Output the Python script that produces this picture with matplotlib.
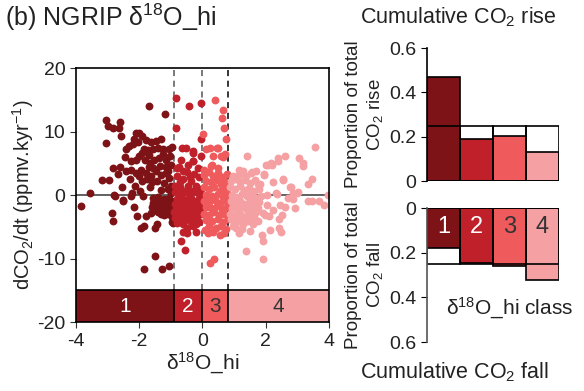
import numpy as np
import matplotlib
matplotlib.use("Agg")
import matplotlib.pyplot as plt
from matplotlib.patches import Rectangle

plt.rcParams['font.family'] = ['Liberation Sans', 'DejaVu Sans']
plt.rcParams['mathtext.fontset'] = 'custom'
plt.rcParams['mathtext.rm'] = 'Liberation Sans'
plt.rcParams['mathtext.it'] = 'Liberation Sans'
plt.rcParams['axes.unicode_minus'] = False

# class colours (1 -> 4)
colors = ['#7d1317', '#c0202a', '#ef5a5c', '#f5a0a2']
txtcol = ['white', 'white', '#333333', '#333333']

# class limits on d18O_hi
bounds = [-4, -0.9, 0.0, 0.8, 4]

# scatter points, (d18O_hi, dCO2/dt) per class
c1 = [(-3.85,-1.7),(-3.55,0.4),(-3.06,11.8),(-3.0,10.8),(-2.83,10.5),(-2.65,10.6),(-2.6,11.5),(-3.04,8.2),
      (-3.17,2.3),(-2.94,2.4),(-2.82,4.2),(-2.67,3.3),(-2.56,9.3),(-2.78,0.0),(-2.54,1.2),(-2.51,-0.8),
      (-2.86,-2.8),(-2.82,-4.0),(-2.41,7.3),(-2.33,7.8),(-2.2,8.1),(-2.1,9.8),(-2.0,9.7),(-1.91,9.3),
      (-2.15,8.8),(-2.05,8.3),(-1.78,8.6),(-1.63,8.3),(-1.46,8.5),(-1.31,8.8),(-1.68,14.0),(-1.17,12.8),
      (-1.86,7.3),(-1.72,7.1),(-1.56,7.2),(-1.41,7.4),(-2.25,5.3),(-2.1,5.6),(-2.0,6.1),(-1.83,5.6),
      (-1.67,5.1),(-1.52,5.6),(-1.36,5.9),(-1.25,6.4),(-1.14,5.6),(-1.04,7.2),(-0.95,7.6),(-2.25,4.0),
      (-2.41,3.8),(-2.1,3.5),(-1.94,4.0),(-1.78,3.5),(-1.62,3.0),(-1.46,3.8),(-1.3,3.2),(-1.14,3.5),
      (-1.04,2.7),(-0.99,1.4),(-1.2,1.9),(-2.12,1.4),(-2.23,0.4),(-1.97,0.6),(-1.67,1.2),(-1.88,-0.2),
      (-1.56,-1.2),(-1.46,-0.9),(-1.35,-1.2),(-1.25,-1.7),(-1.14,-1.2),(-1.04,-1.7),(-0.99,-0.9),(-1.46,-2.0),
      (-1.3,-2.5),(-1.14,-2.5),(-0.99,-2.8),(-1.62,-2.8),(-1.78,-3.3),(-2.07,-3.3),(-1.94,-5.2),(-1.84,-4.9),
      (-1.5,-5.1),(-1.45,-4.6),(-0.97,-4.2),(-1.3,-3.0),(-2.17,-1.9),(-2.26,-0.2),(-2.5,-0.9),(-2.77,-0.1),
      (-1.84,-11.7),(-1.49,-9.6),(-1.29,-11.7),(-1.06,-11.1),
      (-1.55,-0.5),(-1.4,-0.3),(-1.2,-0.6),(-1.05,-0.4),(-1.3,-1.8),(-1.18,-2.0),(-1.08,-2.3),(-0.98,-1.9),
      (-1.5,-1.6),(-1.22,-3.2),(-1.1,-3.0),(-1.4,-2.7),(-0.95,-3.5),(-1.6,-1.9),(-1.0,0.3),(-1.1,1.0),
      (-1.3,0.8),(-1.45,2.2),(-1.6,2.0),(-1.75,2.6),(-1.9,2.2),(-2.0,3.0),(-1.55,4.3),(-1.35,4.6),
      (-1.15,4.5),(-1.0,4.8),(-1.7,6.3),(-1.9,6.6),(-1.25,7.3),(-1.02,6.1),(-1.08,3.8),(-1.7,4.4),
      (-2.3,2.5),(-2.6,4.4),(-2.45,6.0),(-0.92,-4.4)]
c2 = [(-0.83,15.3),(-0.82,10.5),(-0.43,14.0),(-0.04,14.5),(-0.05,8.9),(-0.64,7.4),(-0.51,7.4),(-0.3,6.9),
      (-0.67,5.6),(-0.3,5.3),(-0.03,6.1),(-0.62,-5.8),(-0.48,-5.9),(-0.2,-5.8),(-0.66,-7.2),(-0.55,-8.6),
      (-0.75,4.5),(-0.8,3.0),(-0.5,3.6),(-0.15,4.2),(-0.6,2.5),(-0.35,2.2),(-0.1,2.8),(-0.85,1.5),
      (-0.7,1.2),(-0.45,1.5),(-0.2,1.4),(-0.05,1.0),(-0.31,6.6),(-0.29,5.4),
      (-0.85,0.5),(-0.75,0.2),(-0.6,0.6),(-0.45,0.3),(-0.3,0.7),(-0.15,0.4),(-0.05,-0.2),(-0.8,-0.6),
      (-0.65,-0.4),(-0.5,-0.8),(-0.35,-0.5),(-0.2,-0.9),(-0.1,-0.6),(-0.85,-1.4),(-0.7,-1.2),(-0.55,-1.6),
      (-0.4,-1.3),(-0.25,-1.7),(-0.1,-1.4),(-0.82,-2.2),(-0.68,-2.0),(-0.52,-2.4),(-0.38,-2.1),(-0.22,-2.5),
      (-0.08,-2.2),(-0.78,-3.0),(-0.62,-2.9),(-0.47,-3.2),(-0.32,-2.9),(-0.18,-3.3),(-0.05,-3.0),(-0.72,-3.8),
      (-0.56,-3.7),(-0.4,-4.0),(-0.26,-3.8),(-0.12,-4.2),(-0.6,-4.6),(-0.3,-4.8),(-0.88,-3.6),(-0.9,-2.6),
      (-0.75,-1.7),(-0.45,-1.9),(-0.3,-1.1),(-0.6,-1.0),(-0.15,-2.0),(-0.7,2.0),(-0.4,2.8),(-0.25,3.4),
      (-0.6,3.8),(-0.8,4.2),(-0.45,4.8),(-0.2,-4.6),(-0.8,-4.4),(-0.5,-5.2)]
c3 = [(0.39,14.9),(0.64,13.4),(0.61,12.2),(0.69,10.5),(0.74,8.9),(0.02,9.6),(0.12,7.2),(0.49,7.4),
      (0.33,6.1),(0.71,6.4),(0.05,4.0),(0.26,4.6),(0.24,-10.7),(0.38,-10.1),(0.6,6.2),(0.24,7.4),
      (0.45,7.4),(0.66,6.0),(0.08,-5.5),(0.19,-6.0),
      (0.05,3.2),(0.2,3.6),(0.35,3.0),(0.5,3.5),(0.65,2.8),(0.78,3.3),(0.1,2.2),(0.28,2.0),
      (0.45,2.4),(0.6,1.8),(0.75,2.1),(0.05,1.2),(0.2,0.9),(0.38,1.3),(0.55,0.7),(0.7,1.1),
      (0.12,0.0),(0.3,-0.2),(0.48,0.2),(0.65,-0.3),(0.8,0.1),(0.05,-0.9),(0.22,-1.1),(0.4,-0.8),
      (0.57,-1.2),(0.74,-0.9),(0.1,-1.9),(0.28,-2.1),(0.45,-1.7),(0.62,-2.2),(0.78,-1.8),(0.05,-2.9),
      (0.2,-3.1),(0.37,-2.7),(0.53,-3.2),(0.7,-2.9),(0.12,-3.9),(0.3,-4.1),(0.48,-3.8),(0.65,-4.2),
      (0.8,-3.7),(0.2,-4.9),(0.42,-5.1),(0.6,-4.8),(0.75,-5.4),(0.1,-5.5),(0.33,-5.8),(0.56,-6.3),
      (0.7,-6.0),(0.5,4.3),(0.3,4.8),(0.15,-0.4),(0.68,0.5)]
c4 = [(1.41,6.1),(2.02,4.8),(2.17,5.0),(2.39,5.9),(2.4,5.3),(2.63,6.1),(3.05,5.8),(3.18,5.0),
      (3.19,4.6),(3.57,7.6),(3.46,2.6),(3.33,1.8),(3.99,0.0),(3.7,-0.9),(3.86,-1.5),(3.33,-0.9),
      (2.86,-0.6),(3.02,0.5),(2.76,1.2),(2.54,2.5),(1.96,3.2),(1.7,3.8),(1.54,3.5),(1.38,3.0),
      (1.17,3.2),(0.96,3.0),(1.91,-2.8),(2.12,-3.3),(2.44,-3.8),(2.44,-5.1),(1.91,-7.2),(1.38,-8.8),
      (1.93,-10.0),(1.17,-5.9),(0.96,-4.9),(2.03,0.0),(2.32,0.3),(2.88,0.4),(2.72,-0.4),(3.47,-1.0),
      (2.93,-2.1),(2.61,-1.8),(2.46,-1.6),(2.51,-3.1),(2.49,-5.8),(2.14,-5.5),(1.88,-6.3),(2.04,-1.6),
      (2.25,-2.4),(1.98,-3.1),(1.77,-2.1),(2.07,4.7),(2.19,4.7),(2.24,2.0),(2.56,2.4),(2.8,1.2),
      (3.0,0.3),(2.36,0.2),(1.77,1.8),(1.83,1.7),(1.56,3.6),(1.95,3.4),
      (0.9,2.2),(1.05,2.5),(1.2,2.0),(1.35,2.4),(1.5,1.9),(1.65,2.3),(0.88,1.2),(1.02,1.0),
      (1.18,1.4),(1.32,0.8),(1.48,1.1),(1.62,0.6),(1.8,0.9),(0.95,0.0),(1.1,-0.3),(1.25,0.2),
      (1.4,-0.2),(1.55,0.1),(1.7,-0.4),(1.85,-0.1),(0.9,-1.0),(1.05,-1.3),(1.2,-0.9),(1.35,-1.4),
      (1.5,-1.0),(1.65,-1.5),(1.8,-1.1),(0.95,-2.0),(1.1,-2.3),(1.25,-1.9),(1.4,-2.4),(1.55,-2.0),
      (1.7,-2.6),(0.88,-3.0),(1.02,-3.3),(1.18,-2.9),(1.32,-3.4),(1.48,-3.0),(1.62,-3.5),(1.0,-4.2),
      (1.15,-4.0),(1.3,-4.5),(1.45,-4.1),(1.6,-4.6),(1.75,-4.0),(1.25,-5.3),(1.5,-5.6),(1.05,-5.2),
      (0.9,-3.8),(1.15,4.0),(1.3,3.8)]
classes = [c1, c2, c3, c4]

# cumulative proportions per class
rise = [0.47, 0.19, 0.205, 0.13]
fall = [0.18, 0.245, 0.26, 0.32]
expected = [0.25, 0.25, 0.25, 0.25]

fig = plt.figure(figsize=(5.84, 3.91), dpi=100)

# ---- scatter panel
ax = fig.add_axes([0.130, 0.176, 0.433, 0.650])
ax.axhline(0, color='#555555', lw=1.3, zorder=1)
for i, b in enumerate(bounds[1:-1]):
    ax.plot([b, b], [-15, 20], ls=(0, (4, 3)), lw=1.1,
            color='#555555' if i < 2 else 'black', zorder=1)
for i, pts in enumerate(classes):
    p = np.array(pts)
    ax.scatter(p[:, 0], p[:, 1], s=32, color=colors[i], lw=0, zorder=2)
for i in range(4):
    ax.add_patch(Rectangle((bounds[i], -20), bounds[i+1]-bounds[i], 5,
                           facecolor=colors[i], edgecolor='black', lw=1.2, zorder=3))
    ax.text((bounds[i]+bounds[i+1])/2, -17.6, str(i+1), color=txtcol[i],
            ha='center', va='center', fontsize=15, zorder=4)
ax.set_xlim(-4, 4)
ax.set_ylim(-20, 20)
ax.set_xticks([-4, -2, 0, 2, 4])
ax.set_yticks([-20, -10, 0, 10, 20])
ax.tick_params(labelsize=14, length=4, color='#333333', labelcolor='#222222')
for s in ax.spines.values():
    s.set_linewidth(1.2)
ax.set_xlabel('δ$^{18}$O_hi', fontsize=15, labelpad=1, color='#222222')
ax.set_ylabel('dCO$_2$/dt (ppmv.kyr$^{-1}$)', fontsize=14.5, labelpad=1, color='#222222')
fig.text(0.008, 0.955, '(b) NGRIP δ$^{18}$O_hi', fontsize=18, color='#222222', va='center')

# ---- cumulative rise
x = np.arange(4)
ax1 = fig.add_axes([0.731, 0.537, 0.226, 0.340])
ax1.bar(x, rise, width=1, color=colors, edgecolor='black', lw=1.2)
ax1.bar(x, expected, width=1, fill=False, edgecolor='black', lw=1.2)
ax1.set_xlim(-0.5, 3.5)
ax1.set_ylim(0, 0.6)
ax1.set_yticks([0, 0.2, 0.4, 0.6])
ax1.set_yticklabels(['0', '0.2', '0.4', '0.6'])
ax1.set_xticks([])
for s in ['top', 'right', 'bottom']:
    ax1.spines[s].set_visible(False)
ax1.spines['left'].set_linewidth(1.2)
ax1.tick_params(labelsize=14, length=4, labelcolor='#222222')
ax1.set_ylabel('Proportion of total\nCO$_2$ rise', fontsize=13.5, color='#222222', labelpad=3)
fig.text(0.785, 0.955, 'Cumulative CO$_2$ rise', fontsize=15.5, ha='center', va='center', color='#222222')

# ---- cumulative fall
ax2 = fig.add_axes([0.731, 0.125, 0.226, 0.343])
ax2.bar(x, fall, width=1, color=colors, edgecolor='black', lw=1.2)
ax2.bar(x, expected, width=1, fill=False, edgecolor='black', lw=1.2)
for i in range(4):
    ax2.text(x[i], 0.085, str(i+1), color=txtcol[i], ha='center', va='center', fontsize=17)
ax2.text(2.0, 0.45, 'δ$^{18}$O_hi class', fontsize=15, ha='center', va='center', color='#222222')
ax2.set_xlim(-0.5, 3.5)
ax2.set_ylim(0.6, 0)
ax2.set_yticks([0, 0.2, 0.4, 0.6])
ax2.set_yticklabels(['0', '0.2', '0.4', '0.6'])
ax2.set_xticks([])
for s in ['top', 'right', 'bottom']:
    ax2.spines[s].set_visible(False)
ax2.spines['left'].set_linewidth(1.2)
ax2.spines['left'].set_color('#555555')
ax2.tick_params(labelsize=14, length=4, labelcolor='#222222')
ax2.set_ylabel('Proportion of total\nCO$_2$ fall', fontsize=13.5, color='#222222', labelpad=3)
fig.text(0.778, 0.048, 'Cumulative CO$_2$ fall', fontsize=15.5, ha='center', va='center', color='#222222')

fig.savefig('out.png', dpi=100)
